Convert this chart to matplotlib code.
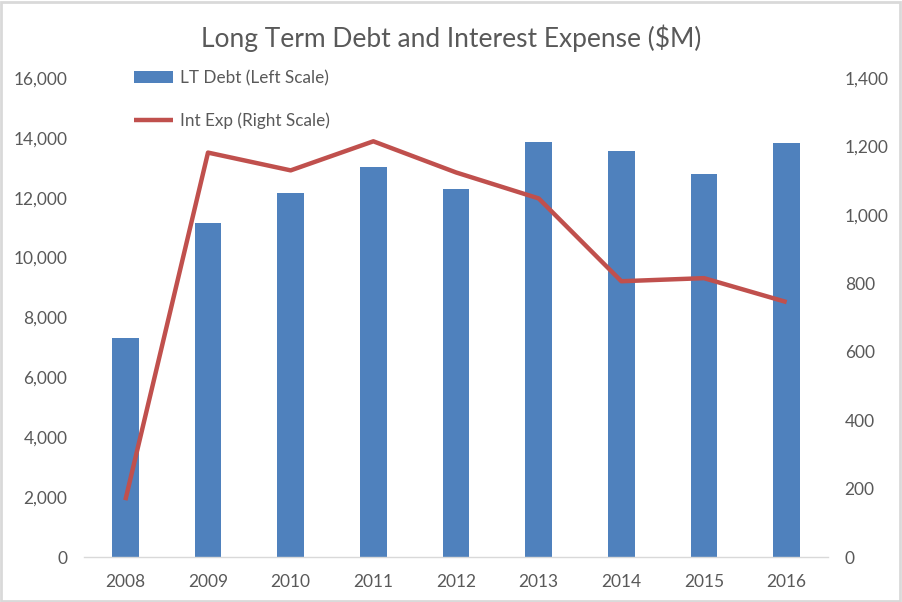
import matplotlib.pyplot as plt
import numpy as np
from matplotlib.patches import Rectangle
from matplotlib.ticker import FuncFormatter

# data
years = ['2008', '2009', '2010', '2011', '2012', '2013', '2014', '2015', '2016']
lt_debt = [7300, 11150, 12170, 13040, 12300, 13870, 13570, 12800, 13830]
int_exp = [166, 1182, 1130, 1215, 1124, 1048, 806, 815, 745]

bar_color = '#4F81BD'
line_color = '#C0504D'
text_color = '#595959'

plt.rcParams['font.family'] = ['Lato', 'DejaVu Sans']

fig = plt.figure(figsize=(9.02, 6.02), dpi=100)
ax = fig.add_axes([84 / 902, 1 - 557 / 602, (828 - 84) / 902, (557 - 78) / 602])
ax2 = ax.twinx()

x = np.arange(len(years))
bars = ax.bar(x, lt_debt, width=0.32, color=bar_color, label='LT Debt (Left Scale)')
line, = ax2.plot(x, int_exp, color=line_color, linewidth=3.2,
                 solid_capstyle='butt', label='Int Exp (Right Scale)')

ax.set_xlim(-0.5, len(years) - 0.5)
ax.set_ylim(0, 16000)
ax2.set_ylim(0, 1400)
ax.set_yticks(np.arange(0, 16001, 2000))
ax2.set_yticks(np.arange(0, 1401, 200))
ax.set_xticks(x)
ax.set_xticklabels(years)

fmt = FuncFormatter(lambda v, p: f'{v:,.0f}')
ax.yaxis.set_major_formatter(fmt)
ax2.yaxis.set_major_formatter(fmt)

for a in (ax, ax2):
    for s in a.spines.values():
        s.set_visible(False)
    a.tick_params(length=0, labelsize=12.5, labelcolor=text_color)
ax.spines['bottom'].set_visible(True)
ax.spines['bottom'].set_color('#D9D9D9')
ax.spines['bottom'].set_linewidth(1.0)
ax.tick_params(axis='y', pad=12)
ax.tick_params(axis='x', pad=12)
ax2.tick_params(axis='y', pad=12)

fig.text(0.5, 1 - 38 / 602, 'Long Term Debt and Interest Expense ($M)',
         ha='center', va='center', fontsize=19, color=text_color)

fig.legend([bars, line], ['LT Debt (Left Scale)', 'Int Exp (Right Scale)'],
           loc='upper left', bbox_to_anchor=(134 / 902, 1 - 70 / 602),
           frameon=False, fontsize=12.3, labelcolor=text_color,
           handlelength=2.3, handletextpad=0.4, labelspacing=1.55,
           borderpad=0, borderaxespad=0)

# light gray chart border
fig.patches.append(Rectangle((0.001, 0.002), 0.997, 0.995, transform=fig.transFigure,
                             fill=False, edgecolor='#D9D9D9', linewidth=2))

fig.savefig('out.png', dpi=100)
